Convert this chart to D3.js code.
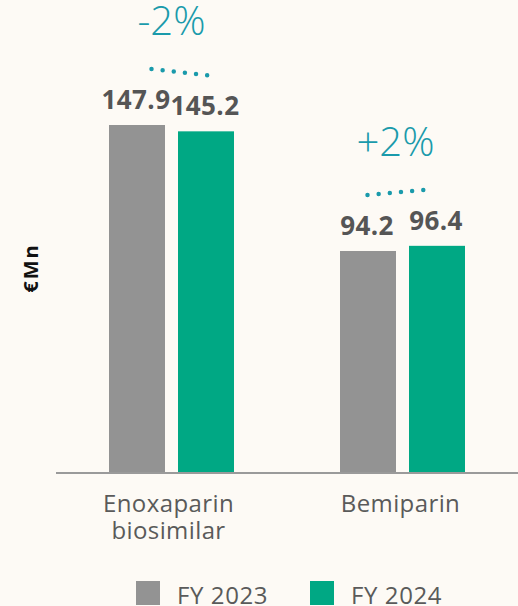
<!DOCTYPE html>
<html>
<head>
<meta charset="utf-8">
<script src="https://cdn.jsdelivr.net/npm/d3@7"></script>
<style>
  body { margin:0; background:#fdfaf5; }
  svg { display:block; }
</style>
</head>
<body>
<div class="canvas"></div>
<script>
const categories = ["Enoxaparin biosimilar", "Bemiparin"]
const catLines = [["Enoxaparin", "biosimilar"], ["Bemiparin"]]
const series = ["FY 2023", "FY 2024"]
const fy2023 = [147.9, 94.2]
const fy2024 = [145.2, 96.4]
const changes = ["-2%", "+2%"]

const dim = { width:518, height:606 }
const colors = { "FY 2023":"#939393", "FY 2024":"#00a884" }
const teal = "#1a9aab"

const svg = d3.select(".canvas").append("svg").attr("width",dim.width).attr("height",dim.height)
svg.append("rect").attr("width",dim.width).attr("height",dim.height).attr("fill","#fdfaf5")

const x0 = d3.scaleBand().domain(categories).range([56, 518]).padding(0)
const x1 = d3.scaleBand().domain(series).range([-62.5, 62.5]).paddingInner(0.1884).paddingOuter(0)
const y = d3.scaleLinear().domain([0, 147.9]).range([472, 125])

const data = categories.map((c,i) => ({ cat:c, vals:[
  { s:"FY 2023", v:fy2023[i] }, { s:"FY 2024", v:fy2024[i] } ] }))

const groups = svg.selectAll("g.grp").data(data).enter().append("g")
  .attr("class","grp")
  .attr("transform", d => `translate(${x0(d.cat) + x0.bandwidth()/2},0)`)

groups.selectAll("rect").data(d => d.vals).enter().append("rect")
  .attr("x", d => x1(d.s))
  .attr("width", x1.bandwidth())
  .attr("y", d => y(d.v))
  .attr("height", d => y(0) - y(d.v))
  .attr("fill", d => colors[d.s])

groups.selectAll("text.val").data(d => d.vals).enter().append("text")
  .attr("class","val")
  .attr("x", d => x1(d.s) + x1.bandwidth()/2 - 1)
  .attr("y", d => y(d.v) - 16)
  .attr("text-anchor","middle")
  .attr("font-family","'Open Sans', sans-serif")
  .attr("font-weight","bold")
  .attr("font-size",26)
  .attr("letter-spacing",0.4)
  .attr("fill","#555")
  .text(d => d.v.toFixed(1))

// dotted trend lines
groups.append("line")
  .attr("x1", (d,i) => i == 0 ? -20 : -35)
  .attr("x2", (d,i) => i == 0 ? 36 : 23)
  .attr("y1", d => y(d.vals[0].v) - 56)
  .attr("y2", d => y(d.vals[1].v) - 56)
  .attr("stroke", teal)
  .attr("stroke-width", 4.5)
  .attr("stroke-linecap","round")
  .attr("stroke-dasharray","0 11.2")

groups.append("text")
  .attr("x", (d,i) => i == 0 ? 0 : -7)
  .attr("y", d => Math.min(y(d.vals[0].v), y(d.vals[1].v)) - 90)
  .attr("text-anchor","middle")
  .attr("font-family","'Open Sans', sans-serif")
  .attr("font-weight",300)
  .attr("font-size",40)
  .attr("fill", teal)
  .text((d,i) => changes[i])

// baseline
svg.append("line")
  .attr("x1",56).attr("x2",518)
  .attr("y1",y(0)+1).attr("y2",y(0)+1)
  .attr("stroke","#9a9a9a").attr("stroke-width",2)

// category labels, one text per line
groups.each(function(d,i){
  catLines[i].forEach((ln,j) => {
    d3.select(this).append("text")
      .attr("x", i == 0 ? -3 : -2).attr("y", 512 + j*27)
      .attr("text-anchor","middle")
      .attr("font-family","'Open Sans', sans-serif")
      .attr("font-size",24)
      .attr("letter-spacing",0.4)
      .attr("fill","#5a5a5a")
      .text(ln)
  })
})

// y label
svg.append("text")
  .attr("transform","translate(38,268) rotate(-90)")
  .attr("text-anchor","middle")
  .attr("font-family","'Open Sans', sans-serif")
  .attr("font-weight","bold")
  .attr("font-size",20)
  .attr("letter-spacing",2)
  .attr("fill","#111")
  .text("€Mn")

// legend
const legend = svg.append("g").selectAll("g").data(series).enter().append("g")
  .attr("transform",(d,i) => `translate(${136 + i*174},581)`)
legend.append("rect").attr("width",24).attr("height",24).attr("fill", d => colors[d])
legend.append("text")
  .attr("x",41).attr("y",23)
  .attr("font-family","'Open Sans', sans-serif")
  .attr("font-size",24)
  .attr("letter-spacing",0.6)
  .attr("fill","#5a5a5a")
  .text(d => d)
</script>
</body>
</html>
